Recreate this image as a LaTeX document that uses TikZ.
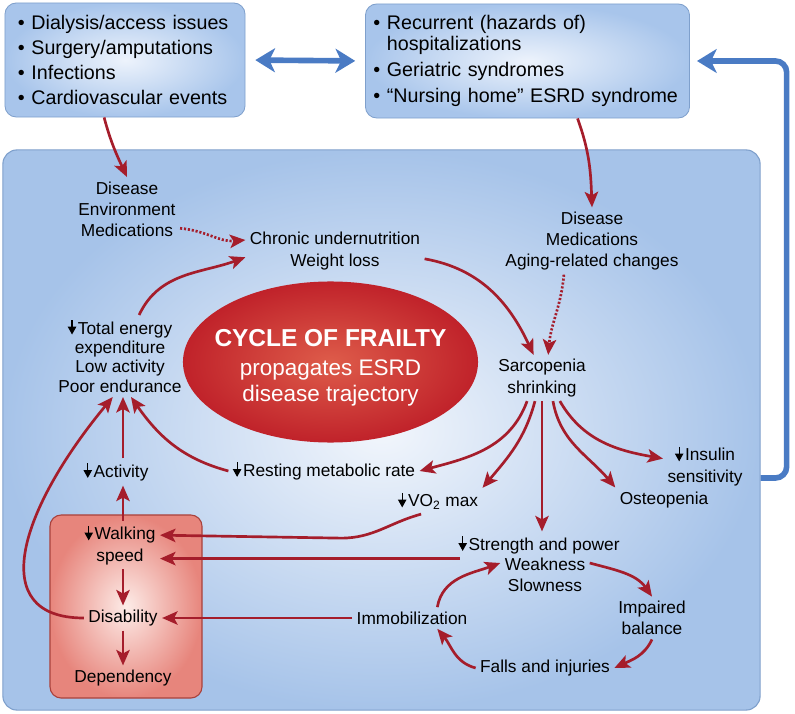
\documentclass[tikz,border=0pt]{standalone}
\usepackage{fontspec}
\setmainfont{Liberation Sans}
\usetikzlibrary{arrows.meta,shapes.geometric}
\definecolor{frailred}{HTML}{A51D2B}
\definecolor{linkblue}{HTML}{4A7BC4}
\definecolor{edgeblue}{HTML}{7FA0CC}
\definecolor{panelin}{HTML}{F2F6FC}
\definecolor{panelout}{HTML}{A6C3E9}
\definecolor{boxin}{HTML}{EDF3FC}
\definecolor{boxout}{HTML}{A8C5EB}
\definecolor{walkin}{HTML}{FDECE8}
\definecolor{walkout}{HTML}{E7857C}
\definecolor{walkedge}{HTML}{A9423D}
\definecolor{cyclein}{HTML}{DE5C4A}
\definecolor{cycleout}{HTML}{C0222A}
% small down arrow used in front of labels
\newcommand{\decr}{\tikz[baseline=0pt]\draw[line width=0.8pt, -{Triangle[length=5.6pt,width=6pt]}] (0pt,10pt) -- (0pt,-0.3pt);\kern1.2pt}
\begin{document}
\begin{tikzpicture}[x=0.025cm, y=0.025cm,
  lbl/.style={align=center, inner sep=3pt, font=\fontsize{12.3}{15}\selectfont},
  redarr/.style={draw=frailred, line width=1.9pt, >={Stealth[length=11pt,width=9.5pt,inset=2.5pt]}, ->},
  dotarr/.style={redarr, dash pattern=on 1.5pt off 1.3pt},
  bluelink/.style={draw=linkblue, line width=4pt, >={Stealth[length=14pt,width=17pt,inset=4pt]}},
  topbox/.style={draw=edgeblue, line width=0.6pt, rounded corners=8pt, inner color=boxin, outer color=boxout, align=left, minimum height=2.85cm},
  panelbox/.style={draw=edgeblue, line width=0.8pt, rounded corners=10pt, inner color=panelin, outer color=panelout, minimum width=18.925cm, minimum height=14cm},
  walkpanel/.style={draw=walkedge, line width=0.8pt, rounded corners=8pt, inner color=walkin, outer color=walkout, minimum width=3.8cm, minimum height=4.575cm},
  cyclenode/.style={ellipse, inner color=cyclein, outer color=cycleout, minimum width=7.375cm, minimum height=4.025cm}
]
\useasboundingbox (0,0) rectangle (795,-714);
% panels
\node[panelbox] (panel) at (381.5,-430) {};
\node[topbox, text width=5.35cm, inner xsep=0.325cm, font=\fontsize{14}{17.7}\selectfont] (risks) at (125,-60)
  {\textbullet\ Dialysis/access issues\\ \textbullet\ Surgery/amputations\\ \textbullet\ Infections\\ \textbullet\ Cardiovascular events};
\node[topbox, text width=7.7cm, inner xsep=0.2cm, font=\fontsize{14}{15}\selectfont] (hosp) at (527.5,-61)
  {\textbullet\ Recurrent (hazards of)\\ \hphantom{\textbullet\ }hospitalizations\\[3.5pt] \textbullet\ Geriatric syndromes\\[3.5pt] \textbullet\ “Nursing home” ESRD syndrome};
\node[walkpanel] (walkbox) at (126,-606.5) {};
\node[cyclenode] (cycle) at (330.5,-362) {};
\node[text=white, align=center, font=\fontsize{16}{19}\selectfont] (cycletext) at (330.5,-368)
  {{\fontsize{17.4}{21}\selectfont\bfseries CYCLE OF FRAILTY}\\[1.5pt] propagates ESRD\\ disease trajectory};
% labels
\node[lbl] (env) at (127,-209) {Disease\\Environment\\Medications};
\node[lbl] (chronic) at (335,-251) {Chronic undernutrition\\Weight loss};
\node[lbl] (aging) at (592,-241) {Disease\\Medications\\Aging-related changes};
\node[lbl, font=\fontsize{12.3}{13.8}\selectfont] (energy) at (120,-356)
  {\decr Total energy\\expenditure\\Low activity\\Poor endurance};
\node[lbl] (sarco) at (542,-378) {Sarcopenia\\shrinking};
\node[lbl] (resting) at (324,-471) {\decr Resting metabolic rate};
\node[lbl] (activity) at (116,-472) {\decr Activity};
\node[lbl] (vo2) at (438,-501) {\decr VO\textsubscript{2} max};
\node[lbl] (insulin) at (705,-466) {\decr Insulin\\sensitivity};
\node[lbl] (osteo) at (664,-500) {Osteopenia};
\node[lbl] (walking) at (120,-545) {\decr Walking\\speed};
\node[lbl] (disab) at (123,-618) {Disability};
\node[lbl] (depend) at (123,-678) {Dependency};
\node[lbl] (strength) at (539,-545) {\decr Strength and power};
\node[lbl] (weak) at (545,-575) {Weakness\\Slowness};
\node[lbl] (immob) at (412,-618) {Immobilization};
\node[lbl] (balance) at (652,-618) {Impaired\\balance};
\node[lbl] (falls) at (545,-668) {Falls and injuries};
% blue links
\draw[bluelink, <->, shorten <=7pt, shorten >=7pt] (risks.east) -- (hosp.west);
\draw[bluelink, ->, rounded corners=8pt, shorten >=5pt] ([yshift=-1.2cm]panel.east) -- ++(0.65cm,0) |- (hosp.east);
% inputs
\draw[redarr] (risks.250) to[out=-75,in=115] (env.north);
\draw[redarr] ([xshift=1.25cm]hosp.south) to[out=-70,in=92] (aging.north);
\draw[dotarr] (env.-20) to[out=-5,in=185] (chronic.173);
\draw[dotarr] ([xshift=-20pt]aging.south) to[out=-95,in=85] (sarco.75);
% cycle
\draw[redarr] (energy.65) to[out=65,in=200] (chronic.184);
\draw[redarr] (chronic.-5) to[out=-10,in=115] (sarco.110);
\draw[redarr] ([xshift=-10.6pt]sarco.south) to[out=-110,in=15] (resting.east);
\draw[redarr] ([xshift=-5pt]sarco.south) to[out=-105,in=50] (vo2.north east);
\draw[redarr] (sarco.south) -- (sarco.south |- strength.north);
\draw[redarr] ([xshift=7.8pt]sarco.south) to[out=-80,in=130] (osteo.north west);
\draw[redarr] ([xshift=12.7pt]sarco.south) to[out=-60,in=170] (insulin.170);
\draw[redarr] (resting.west) to[out=165,in=-55] (energy.-75);
\draw[redarr] (disab.north |- activity.north) -- (disab.north |- energy.south);
\draw[redarr] (disab.west) .. controls +(-100,0) and +(-92,-111) .. (energy.-100);
% walking box
\draw[redarr] (disab.north |- walking.north) -- (disab.north |- activity.south);
\draw[redarr] (disab.north |- walking.south) -- (disab.north);
\draw[redarr] (disab.south) -- (depend.north);
\draw[redarr] ([xshift=-12pt]vo2.south) to[out=195,in=0] ++(-80,-24) -- ([yshift=7pt]walking.east);
\draw[redarr] ([xshift=4pt]strength.south west) -- (strength.south west -| walking.east);
\draw[redarr] (immob.west) -- (disab.east);
% weakness loop
\draw[redarr] ([xshift=18pt]immob.north) to[out=80,in=200] (weak.165);
\draw[redarr] (weak.15) to[out=-15,in=125] (balance.north);
\draw[redarr] (balance.south) to[out=-115,in=25] (falls.east);
\draw[redarr] (falls.west) to[out=165,in=-50] ([xshift=18pt]immob.south);
\end{tikzpicture}
\end{document}
